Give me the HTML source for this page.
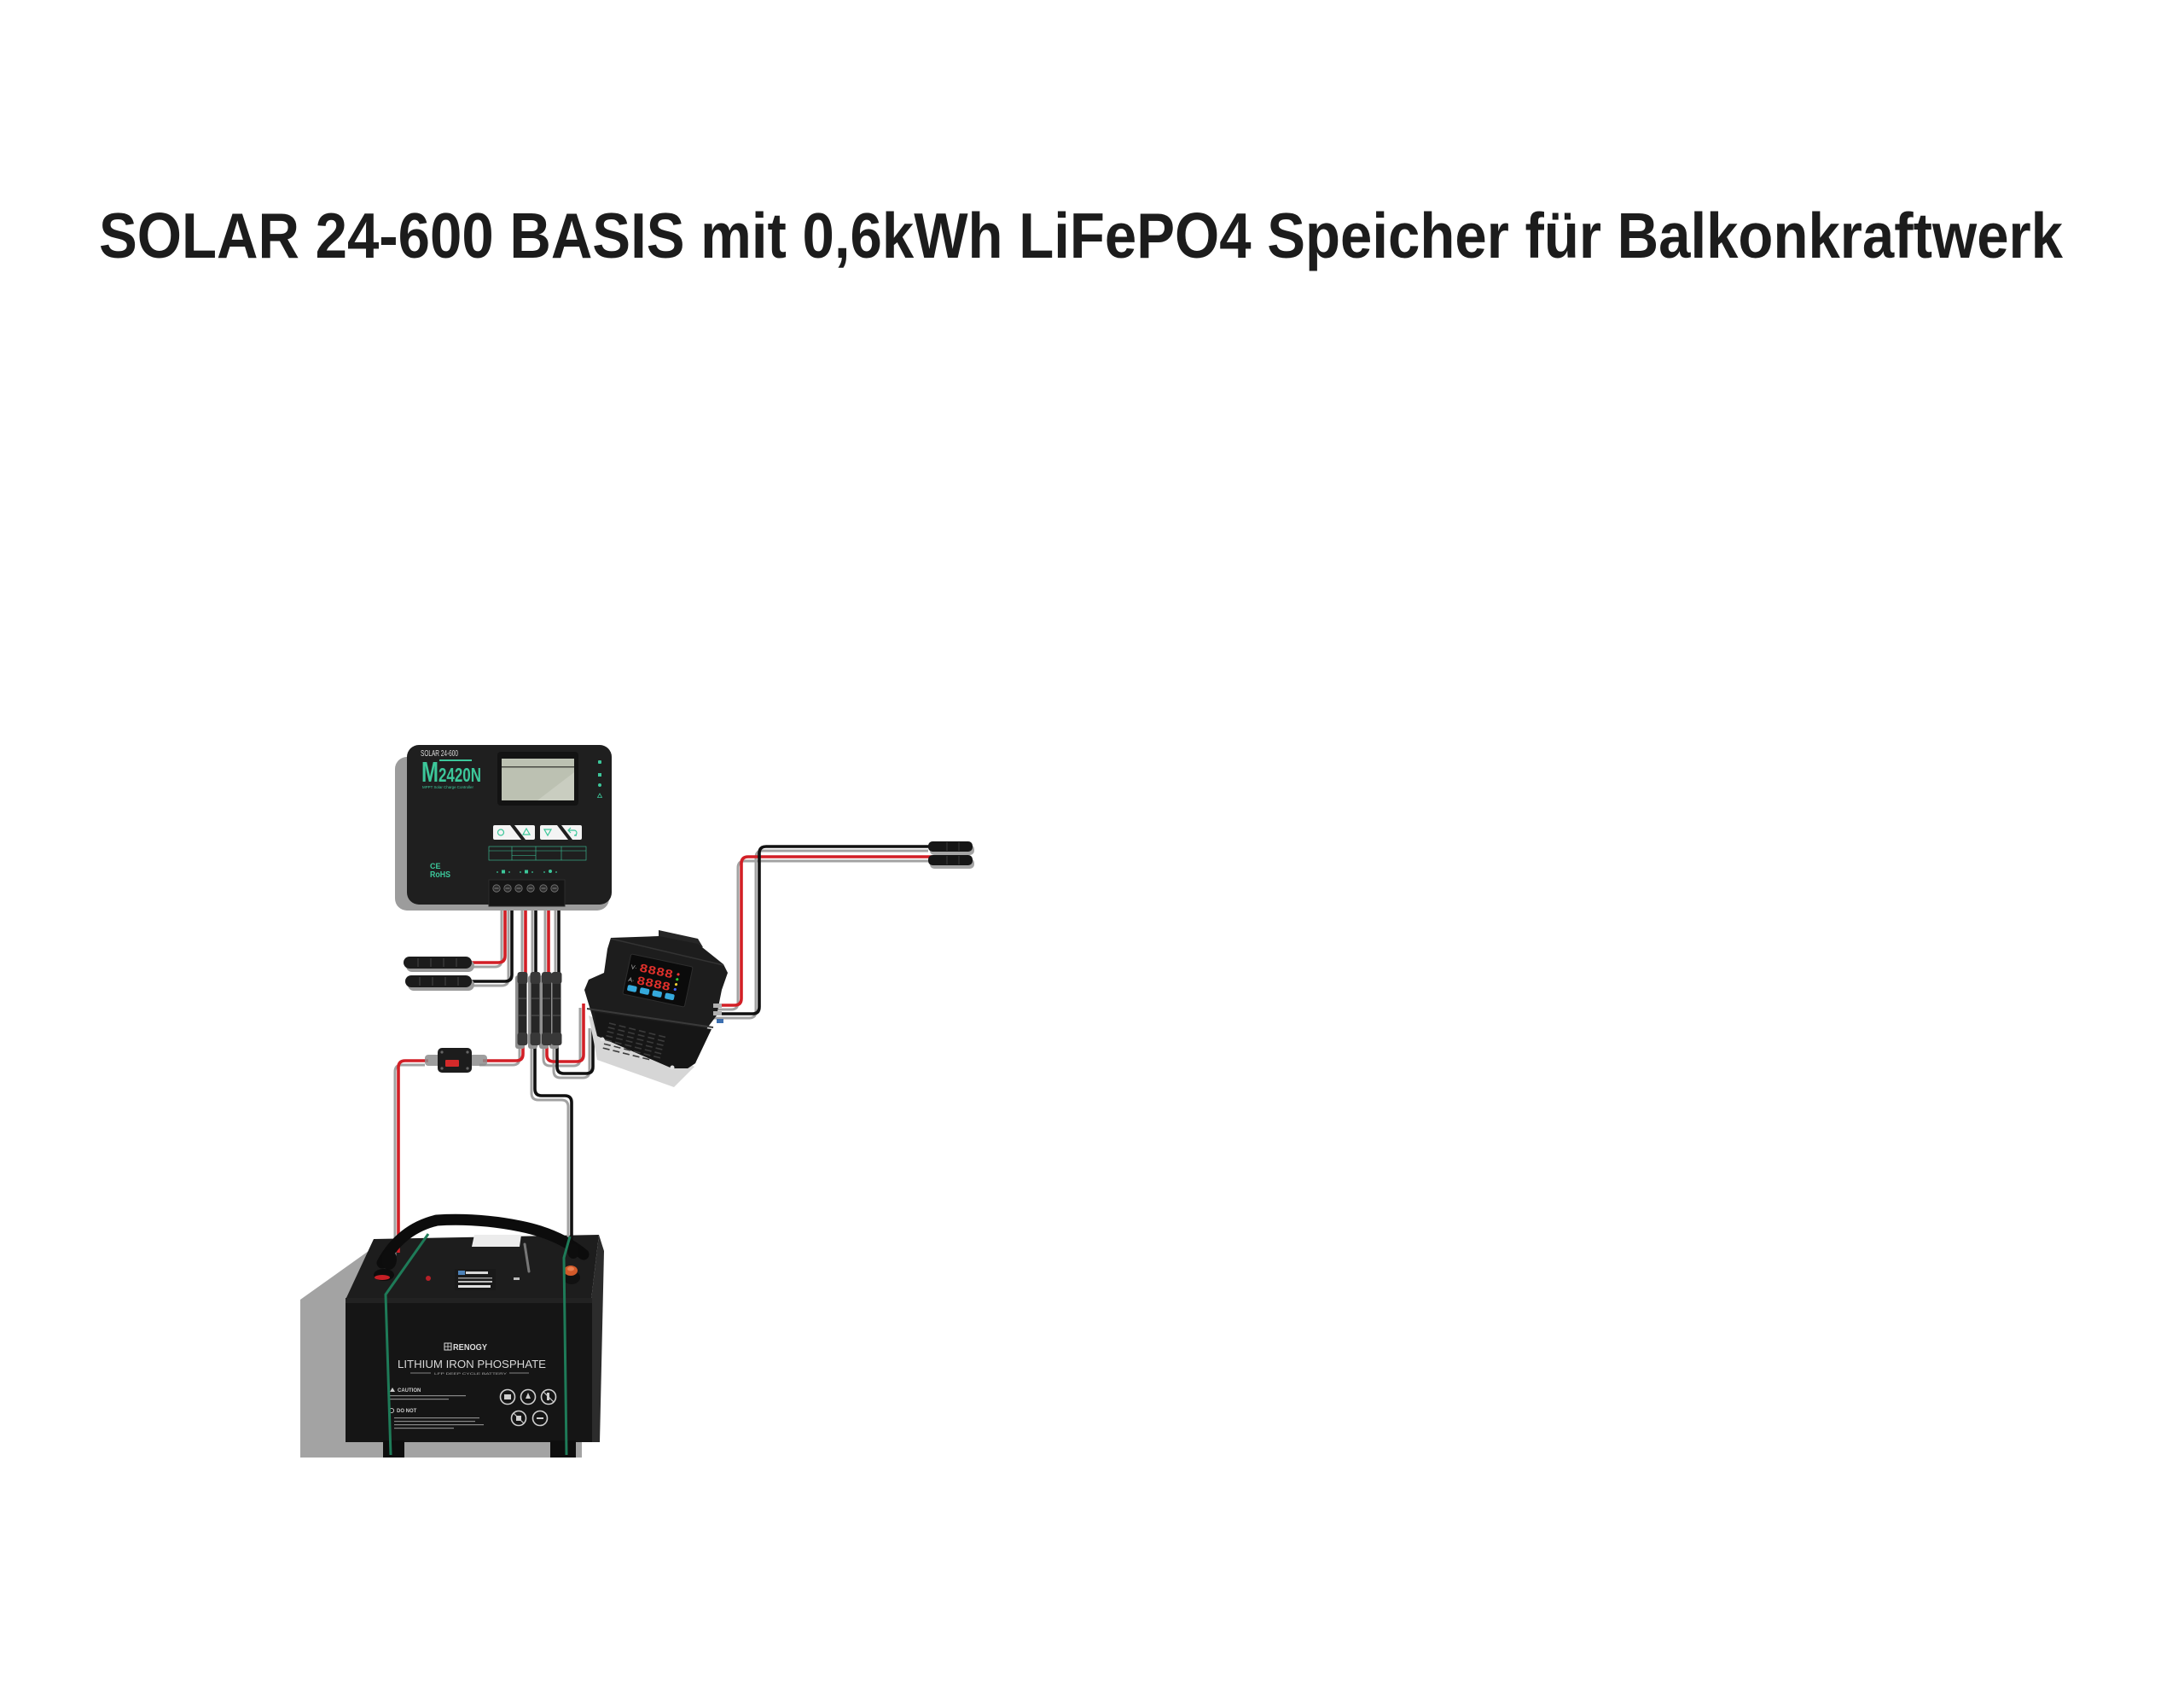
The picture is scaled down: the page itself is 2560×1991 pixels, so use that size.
<!DOCTYPE html>
<html>
<head>
<meta charset="utf-8">
<style>
html,body{margin:0;padding:0;background:#fff;}
svg{display:block;}
</style>
</head>
<body>
<svg width="2560" height="1991" viewBox="0 0 2560 1991" xmlns="http://www.w3.org/2000/svg" xmlns:xlink="http://www.w3.org/1999/xlink">
<defs>
  <path id="r1" d="M592,1058 V1120 Q592,1128 584,1128 H548"/>
  <path id="r3a" d="M616,1058 V1142"/>
  <path id="r3b" d="M613,1222 V1235 Q613,1243 605,1243 H566"/>
  <path id="r5a" d="M643,1058 V1142"/>
  <path id="r5b" d="M641,1222 V1236 Q641,1244 649,1244 H676 Q684,1244 684,1236 V1176"/>
  <path id="rr" d="M838,1178 H861 Q869,1178 869,1170 V1012 Q869,1004 877,1004 H1092"/>
  <path id="rf" d="M502,1243 H475 Q467,1243 467,1251 V1468"/>
  <path id="b2" d="M600,1058 V1142 Q600,1150 592,1150 H548"/>
  <path id="b4a" d="M628,1058 V1142"/>
  <path id="b4b" d="M627,1222 V1276 Q627,1284 635,1284 H662 Q670,1284 670,1292 V1460"/>
  <path id="b6a" d="M655,1058 V1142"/>
  <path id="b6b" d="M653,1222 V1250 Q653,1258 661,1258 H687 Q695,1258 695,1250 V1200"/>
  <path id="rb" d="M840,1188 H882 Q890,1188 890,1180 V1000 Q890,992 898,992 H1092"/>
</defs>

<rect width="2560" height="1991" fill="#ffffff"/>

<!-- Title -->
<text x="116" y="302" font-family="'Liberation Sans', sans-serif" font-weight="700" font-size="75" fill="#1c1c1c" textLength="2302" lengthAdjust="spacingAndGlyphs">SOLAR 24-600 BASIS mit 0,6kWh LiFePO4 Speicher für Balkonkraftwerk</text>

<!-- ================= BATTERY ================= -->
<polygon points="352,1523 446,1456 446,1686 682,1686 682,1708 352,1708" fill="#a3a3a3"/>
<!-- side face -->
<polygon points="693,1523 702,1447 708,1466 703,1690 693,1690" fill="#2c2c2c"/>
<!-- top face -->
<polygon points="405,1523 438,1452 702,1447 693,1523" fill="#1d1d1d"/>
<!-- front face -->
<rect x="405" y="1521" width="289" height="169" fill="#151515"/>
<rect x="405" y="1521" width="289" height="6" fill="#222"/>
<!-- legs -->
<rect x="449" y="1688" width="25" height="20" fill="#0e0e0e"/>
<rect x="645" y="1688" width="30" height="20" fill="#0e0e0e"/>
<!-- top label / sticker -->
<polygon points="556,1447 611,1447 609,1461 553,1461" fill="#ececec"/>
<rect x="533" y="1487" width="48" height="25" fill="#191919"/>
<rect x="537" y="1489" width="8" height="5" fill="#4d82b8"/>
<rect x="546" y="1490" width="26" height="3" fill="#d8d8d8"/>
<rect x="537" y="1497" width="40" height="1.5" fill="#999"/>
<rect x="537" y="1501" width="40" height="2" fill="#bbb"/>
<rect x="537" y="1506" width="38" height="3" fill="#e0e0e0"/>
<circle cx="502" cy="1498" r="3" fill="#b62028"/>
<rect x="602" y="1497" width="7" height="3" fill="#bbb"/>
<line x1="615" y1="1458" x2="620" y2="1490" stroke="#777" stroke-width="3" stroke-linecap="round"/>
<!-- front text -->
<rect x="521" y="1574" width="8" height="8" fill="none" stroke="#ddd" stroke-width="1"/>
<line x1="525" y1="1574" x2="525" y2="1582" stroke="#ddd" stroke-width="0.8"/>
<line x1="521" y1="1578" x2="529" y2="1578" stroke="#ddd" stroke-width="0.8"/>
<text x="531" y="1582" font-family="'Liberation Sans', sans-serif" font-weight="700" font-size="10" fill="#dddddd" textLength="40" lengthAdjust="spacingAndGlyphs">RENOGY</text>
<text x="466" y="1603" font-family="'Liberation Sans', sans-serif" font-size="13" fill="#d8d8d8" textLength="174" lengthAdjust="spacingAndGlyphs">LITHIUM IRON PHOSPHATE</text>
<line x1="481" y1="1609" x2="505" y2="1609" stroke="#aaa" stroke-width="0.8"/>
<line x1="597" y1="1609" x2="620" y2="1609" stroke="#aaa" stroke-width="0.8"/>
<text x="509" y="1611" font-family="'Liberation Sans', sans-serif" font-size="4" fill="#aaa" textLength="85" lengthAdjust="spacingAndGlyphs">LFP DEEP CYCLE BATTERY</text>
<polygon points="457,1631 460,1626 463,1631" fill="#ccc"/>
<text x="466" y="1631" font-family="'Liberation Sans', sans-serif" font-weight="700" font-size="6" fill="#cccccc">CAUTION</text>
<rect x="456" y="1635" width="90" height="1.2" fill="#888"/>
<rect x="456" y="1639" width="70" height="1.2" fill="#888"/>
<circle cx="459" cy="1653" r="2.6" fill="none" stroke="#ccc" stroke-width="0.9"/>
<text x="465" y="1655" font-family="'Liberation Sans', sans-serif" font-weight="700" font-size="6" fill="#cccccc">DO NOT</text>
<rect x="462" y="1661" width="100" height="1.2" fill="#888"/>
<rect x="462" y="1665" width="95" height="1.2" fill="#888"/>
<rect x="462" y="1669" width="105" height="1.2" fill="#888"/>
<rect x="462" y="1673" width="70" height="1.2" fill="#888"/>
<g fill="none" stroke="#cfcfcf" stroke-width="1.6">
  <circle cx="595" cy="1637" r="8.5"/>
  <circle cx="619" cy="1637" r="8.5"/>
  <circle cx="643" cy="1637" r="8.5"/>
  <circle cx="608" cy="1662" r="8.5"/>
  <circle cx="633" cy="1662" r="8.5"/>
</g>
<g fill="#cfcfcf">
  <rect x="591" y="1634" width="8" height="6"/>
  <path d="M619,1632 l3,7 h-6 z"/>
  <rect x="641" y="1632" width="3" height="9"/>
  <path d="M605,1659 h6 v6 h-6 z"/>
  <rect x="629" y="1661" width="8" height="2"/>
</g>
<line x1="637" y1="1631" x2="649" y2="1643" stroke="#cfcfcf" stroke-width="1.2"/>
<line x1="602" y1="1656" x2="614" y2="1668" stroke="#cfcfcf" stroke-width="1.2"/>

<!-- ================= WIRES ================= -->
<g fill="none" stroke="#a2a2a2" stroke-width="3" stroke-linejoin="round" transform="translate(-4,5)">
  <use xlink:href="#r1"/><use xlink:href="#r3a"/><use xlink:href="#r3b"/><use xlink:href="#r5a"/><use xlink:href="#r5b"/>
  <use xlink:href="#rr"/><use xlink:href="#rf"/>
  <use xlink:href="#b2"/><use xlink:href="#b4a"/><use xlink:href="#b4b"/><use xlink:href="#b6a"/><use xlink:href="#b6b"/><use xlink:href="#rb"/>
</g>
<g fill="none" stroke="#d21f26" stroke-width="3.6" stroke-linejoin="round">
  <use xlink:href="#r1"/><use xlink:href="#r3a"/><use xlink:href="#r3b"/><use xlink:href="#r5a"/><use xlink:href="#r5b"/>
  <use xlink:href="#rr"/><use xlink:href="#rf"/>
</g>
<g fill="none" stroke="#111111" stroke-width="3.6" stroke-linejoin="round">
  <use xlink:href="#b2"/><use xlink:href="#b4a"/><use xlink:href="#b4b"/><use xlink:href="#b6a"/><use xlink:href="#b6b"/><use xlink:href="#rb"/>
</g>

<!-- battery strap / boots over wires -->
<path d="M448,1480 Q470,1440 512,1430 Q560,1427 610,1437 Q655,1446 684,1470" fill="none" stroke="#0c0c0c" stroke-width="13" stroke-linecap="round"/>
<ellipse cx="456" cy="1476" rx="9" ry="12" fill="#0d0d0d"/>
<ellipse cx="450" cy="1494" rx="12" ry="7" fill="#0c0c0c"/>
<ellipse cx="448" cy="1497" rx="9" ry="3" fill="#c51f25"/>
<ellipse cx="672" cy="1466" rx="7" ry="9" fill="#0d0d0d"/>
<ellipse cx="670" cy="1497" rx="10" ry="8" fill="#111"/>
<ellipse cx="669" cy="1489" rx="8" ry="6" fill="#d25a2a"/>
<ellipse cx="669" cy="1487" rx="4" ry="2.5" fill="#e98050"/>
<polyline points="502,1446 452,1517 458,1705" fill="none" stroke="#1e7b58" stroke-width="3"/>
<polyline points="668,1449 661,1474 664,1705" fill="none" stroke="#1e7b58" stroke-width="3"/>

<!-- ================= LEFT SOLAR CONNECTORS ================= -->
<rect x="476" y="1125" width="80" height="14" rx="7" fill="#9a9a9a"/>
<rect x="478" y="1147" width="78" height="14" rx="7" fill="#9a9a9a"/>
<rect x="473" y="1121" width="80" height="14" rx="7" fill="#1b1b1b"/>
<rect x="475" y="1143" width="78" height="14" rx="7" fill="#1b1b1b"/>
<g stroke="#444" stroke-width="1">
  <line x1="490" y1="1123" x2="490" y2="1133"/><line x1="505" y1="1123" x2="505" y2="1133"/><line x1="520" y1="1123" x2="520" y2="1133"/><line x1="535" y1="1123" x2="535" y2="1133"/>
  <line x1="492" y1="1145" x2="492" y2="1155"/><line x1="507" y1="1145" x2="507" y2="1155"/><line x1="522" y1="1145" x2="522" y2="1155"/><line x1="537" y1="1145" x2="537" y2="1155"/>
</g>

<!-- ================= RIGHT SOLAR CONNECTORS ================= -->
<rect x="1090" y="990" width="52" height="12" rx="5" fill="#a5a5a5"/>
<rect x="1090" y="1006" width="52" height="12" rx="5" fill="#a5a5a5"/>
<rect x="1088" y="986" width="52" height="12" rx="5" fill="#161616"/>
<rect x="1088" y="1002" width="52" height="12" rx="5" fill="#161616"/>
<g stroke="#3a3a3a" stroke-width="1">
  <line x1="1110" y1="987" x2="1110" y2="997"/><line x1="1124" y1="987" x2="1124" y2="997"/>
  <line x1="1110" y1="1003" x2="1110" y2="1013"/><line x1="1124" y1="1003" x2="1124" y2="1013"/>
</g>

<!-- ================= Y-CONNECTORS ================= -->
<g>
  <rect x="604" y="1143" width="11" height="86" rx="3" fill="#8f8f8f"/>
  <rect x="619" y="1143" width="11" height="86" rx="3" fill="#8f8f8f"/>
  <rect x="632" y="1143" width="11" height="86" rx="3" fill="#8f8f8f"/>
  <rect x="644" y="1143" width="11" height="86" rx="3" fill="#8f8f8f"/>
</g>
<g fill="#262626">
  <rect x="607.5" y="1139" width="10" height="86" rx="3"/>
  <rect x="622.5" y="1139" width="10" height="86" rx="3"/>
  <rect x="636" y="1139" width="10" height="86" rx="3"/>
  <rect x="647.5" y="1139" width="10" height="86" rx="3"/>
</g>
<g fill="#383838">
  <rect x="606.5" y="1139" width="12" height="14" rx="3"/><rect x="606.5" y="1210" width="12" height="15" rx="3"/>
  <rect x="621.5" y="1139" width="12" height="14" rx="3"/><rect x="621.5" y="1210" width="12" height="15" rx="3"/>
  <rect x="635" y="1139" width="12" height="14" rx="3"/><rect x="635" y="1210" width="12" height="15" rx="3"/>
  <rect x="646.5" y="1139" width="12" height="14" rx="3"/><rect x="646.5" y="1210" width="12" height="15" rx="3"/>
</g>
<g stroke="#555" stroke-width="1">
  <line x1="608" y1="1170" x2="617" y2="1170"/><line x1="608" y1="1190" x2="617" y2="1190"/>
  <line x1="623" y1="1170" x2="632" y2="1170"/><line x1="623" y1="1190" x2="632" y2="1190"/>
  <line x1="636" y1="1170" x2="645" y2="1170"/><line x1="636" y1="1190" x2="645" y2="1190"/>
  <line x1="648" y1="1170" x2="657" y2="1170"/><line x1="648" y1="1190" x2="657" y2="1190"/>
</g>

<!-- ================= FUSE ================= -->
<rect x="498" y="1236" width="20" height="13" rx="4" fill="#8d8d8d" opacity="0.85"/>
<rect x="550" y="1236" width="21" height="13" rx="4" fill="#8d8d8d" opacity="0.85"/>
<rect x="513" y="1228" width="40" height="29" rx="5" fill="#1c1c1c"/>
<rect x="522" y="1242" width="16" height="8" rx="1" fill="#d42a2a"/>
<g fill="#666">
  <circle cx="518" cy="1233" r="1.6"/><circle cx="548" cy="1233" r="1.6"/>
  <circle cx="518" cy="1252" r="1.6"/><circle cx="548" cy="1252" r="1.6"/>
</g>

<!-- ================= DC CONVERTER ================= -->
<polygon points="690,1190 700,1242 790,1274 814,1250" fill="#d6d6d6"/>
<polygon points="772,1090 818,1100 824,1110 772,1102" fill="#262626"/>
<polygon points="716,1099 772,1097 818,1106 848,1130 853,1140 846,1160 840,1190 828,1206 815,1246 806,1252 788,1252 700,1214 694,1190 685,1160 690,1148 708,1140 712,1112" fill="#1d1d1d"/>
<polygon points="697,1186 834,1206 815,1246 806,1252 788,1252 700,1214" fill="#161616"/>
<line x1="688" y1="1182" x2="836" y2="1204" stroke="#3a3a3a" stroke-width="2"/>
<line x1="716" y1="1100" x2="848" y2="1131" stroke="#333" stroke-width="1.5"/>
<g transform="translate(714,1199) rotate(14)" stroke="#3c3c3c" stroke-width="1.6">
  <path d="M0 0h8M0 5h8M0 10h8M0 15h8M0 20h8M0 25h8M0 30h8M12 0h8M12 5h8M12 10h8M12 15h8M12 20h8M12 25h8M12 30h8M24 0h8M24 5h8M24 10h8M24 15h8M24 20h8M24 25h8M24 30h8M36 0h8M36 5h8M36 10h8M36 15h8M36 20h8M36 25h8M36 30h8M48 0h8M48 5h8M48 10h8M48 15h8M48 20h8M48 25h8M48 30h8M60 0h8M60 5h8M60 10h8M60 15h8M60 20h8M60 25h8"/>
</g>
<circle cx="706" cy="1218" r="2.5" fill="#e2e2e2"/>
<circle cx="788" cy="1251" r="2.5" fill="#e2e2e2"/>
<rect x="836" y="1176" width="10" height="5" fill="#b0b0b0"/>
<rect x="836" y="1185" width="10" height="5" fill="#b0b0b0"/>
<rect x="840" y="1194" width="8" height="5" fill="#3c6fb0"/>
<g transform="translate(771,1149) rotate(12)">
  <rect x="-37" y="-24" width="74" height="48" rx="2" fill="#0b0b0b" stroke="#2e2e2e" stroke-width="1"/>
  <text x="-34" y="-7" font-family="'Liberation Sans', sans-serif" font-size="7" fill="#bbbbbb">V·</text>
  <text x="-34" y="8" font-family="'Liberation Sans', sans-serif" font-size="7" fill="#bbbbbb">A·</text>
  <text x="-24" y="-6" font-family="'Liberation Mono', monospace" font-weight="700" font-size="14" fill="#e0302b" textLength="40" lengthAdjust="spacingAndGlyphs">8888</text>
  <text x="-24" y="9" font-family="'Liberation Mono', monospace" font-weight="700" font-size="14" fill="#e0302b" textLength="40" lengthAdjust="spacingAndGlyphs">8888</text>
  <circle cx="22" cy="-12" r="1.6" fill="#e33"/>
  <circle cx="22" cy="-6" r="1.6" fill="#3c3"/>
  <circle cx="22" cy="0" r="1.6" fill="#ec3"/>
  <circle cx="22" cy="6" r="1.6" fill="#46f"/>
  <rect x="-33" y="12" width="11" height="7" rx="2" fill="#35a9dc"/>
  <rect x="-18" y="12" width="11" height="7" rx="2" fill="#35a9dc"/>
  <rect x="-3" y="12" width="11" height="7" rx="2" fill="#35a9dc"/>
  <rect x="12" y="12" width="11" height="7" rx="2" fill="#35a9dc"/>
</g>

<!-- ================= CHARGE CONTROLLER ================= -->
<rect x="463" y="887" width="251" height="180" rx="14" fill="#9c9c9c"/>
<rect x="477" y="873" width="240" height="187" rx="14" fill="#1f1f1f"/>
<rect x="573" y="1031" width="89" height="31" fill="#151515" stroke="#2c2c2c" stroke-width="1"/>
<!-- LCD -->
<rect x="583" y="881" width="95" height="63" rx="4" fill="#131313"/>
<rect x="588" y="889" width="85" height="49" fill="#bcc1b2"/>
<polygon points="630,938 673,905 673,938" fill="#c9cdc0"/>
<rect x="588" y="898" width="85" height="1.5" fill="#4a4a44"/>
<!-- branding -->
<text x="493" y="886" font-family="'Liberation Sans', sans-serif" font-size="10" fill="#dcdcdc" textLength="44" lengthAdjust="spacingAndGlyphs">SOLAR 24-600</text>
<rect x="515" y="890" width="38" height="2" fill="#3cc79a"/>
<text x="494" y="916" font-family="'Liberation Sans', sans-serif" font-weight="700" font-size="33" fill="#3cc79a" textLength="20" lengthAdjust="spacingAndGlyphs">M</text>
<text x="514" y="916" font-family="'Liberation Sans', sans-serif" font-weight="700" font-size="23" fill="#3cc79a" textLength="50" lengthAdjust="spacingAndGlyphs">2420N</text>
<text x="495" y="924" font-family="'Liberation Sans', sans-serif" font-size="4.5" fill="#3cc79a" textLength="60" lengthAdjust="spacingAndGlyphs">MPPT Solar Charge Controller</text>
<!-- right indicators -->
<g fill="#3cc79a">
  <rect x="701" y="891" width="4" height="4" rx="1"/>
  <rect x="701" y="906" width="4" height="4"/>
  <circle cx="703" cy="920" r="2"/>
  <path d="M703,930 l2.5,4.5 h-5 z" fill="none" stroke="#3cc79a" stroke-width="0.8"/>
</g>
<!-- buttons -->
<rect x="578" y="967" width="49" height="17" rx="2" fill="#f4f4f4"/>
<polygon points="598,967 603,967 616,984 611,984" fill="#1f1f1f"/>
<rect x="633" y="967" width="49" height="17" rx="2" fill="#f4f4f4"/>
<polygon points="653,967 658,967 671,984 666,984" fill="#1f1f1f"/>
<g fill="none" stroke="#3cc79a" stroke-width="1.2">
  <circle cx="587" cy="975.5" r="3.5"/>
  <path d="M617,971 l4,7 h-8 z"/>
  <path d="M638,972 h8 l-4,7 z"/>
  <path d="M676,979 h-3 a3,3 0 0 0 0,-6 h-6 M669,970 l-3,3 3,3"/>
</g>
<!-- spec table -->
<g fill="none" stroke="#3cc79a" stroke-width="0.6">
  <rect x="573" y="992" width="114" height="16"/>
  <line x1="573" y1="997" x2="687" y2="997"/>
  <line x1="600" y1="992" x2="600" y2="1008"/>
  <line x1="628" y1="992" x2="628" y2="1008"/>
  <line x1="658" y1="992" x2="658" y2="1008"/>
  <line x1="600" y1="1002.5" x2="628" y2="1002.5"/>
</g>
<!-- CE / RoHS -->
<text x="504" y="1018" font-family="'Liberation Sans', sans-serif" font-weight="700" font-size="9" fill="#3cc79a">CE</text>
<text x="504" y="1028" font-family="'Liberation Sans', sans-serif" font-weight="700" font-size="10" fill="#3cc79a" textLength="24" lengthAdjust="spacingAndGlyphs">RoHS</text>
<!-- small icons row -->
<g fill="#3cc79a">
  <circle cx="583" cy="1022" r="0.9"/><rect x="588" y="1019.5" width="4" height="4"/><circle cx="597" cy="1022" r="0.9"/>
  <circle cx="610" cy="1022" r="0.9"/><rect x="615" y="1019.5" width="4" height="4"/><circle cx="624" cy="1022" r="0.9"/>
  <circle cx="638" cy="1022" r="0.9"/><circle cx="645" cy="1021" r="2"/><circle cx="652" cy="1022" r="0.9"/>
</g>
<!-- terminal screws -->
<g fill="#2c2c2c" stroke="#7a7a7a" stroke-width="0.8">
  <circle cx="582" cy="1041" r="4.2"/><circle cx="595" cy="1041" r="4.2"/><circle cx="608" cy="1041" r="4.2"/>
  <circle cx="622" cy="1041" r="4.2"/><circle cx="637" cy="1041" r="4.2"/><circle cx="650" cy="1041" r="4.2"/>
</g>
<g stroke="#999" stroke-width="0.8">
  <line x1="579.5" y1="1041" x2="584.5" y2="1041"/><line x1="592.5" y1="1041" x2="597.5" y2="1041"/><line x1="605.5" y1="1041" x2="610.5" y2="1041"/>
  <line x1="619.5" y1="1041" x2="624.5" y2="1041"/><line x1="634.5" y1="1041" x2="639.5" y2="1041"/><line x1="647.5" y1="1041" x2="652.5" y2="1041"/>
</g>
</svg>
</body>
</html>
